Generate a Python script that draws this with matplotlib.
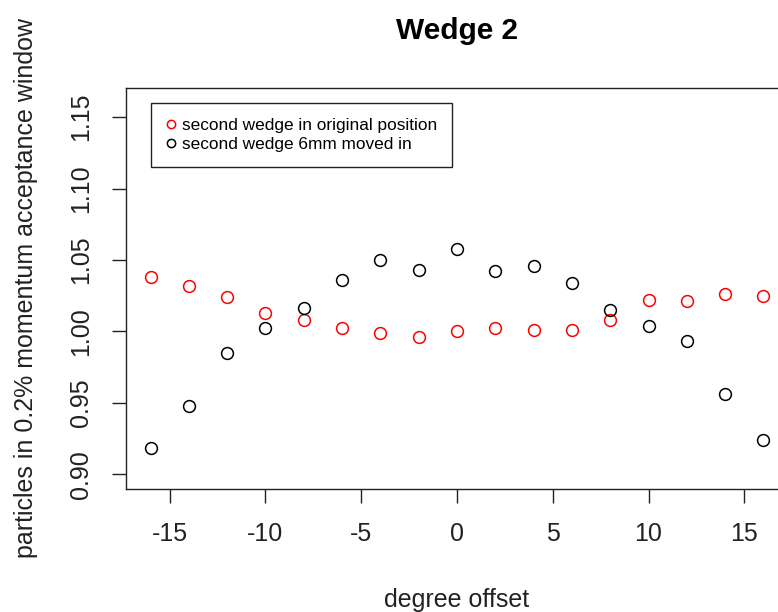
import numpy as np
import matplotlib as mpl
mpl.use('Agg')
import matplotlib.pyplot as plt

plt.rcParams['font.family'] = ['Liberation Sans', 'DejaVu Sans']

offset = [-16, -14, -12, -10, -8, -6, -4, -2, 0, 2, 4, 6, 8, 10, 12, 14, 16]
original = [1.038, 1.032, 1.024, 1.013, 1.008, 1.002, 0.999, 0.996, 1.000,
            1.002, 1.001, 1.001, 1.008, 1.022, 1.021, 1.026, 1.025]
moved_in = [0.918, 0.948, 0.985, 1.002, 1.016, 1.036, 1.050, 1.043, 1.058,
            1.042, 1.046, 1.034, 1.015, 1.004, 0.993, 0.956, 0.924]
xticks = [-15, -10, -5, 0, 5, 10, 15]
yticks = [0.90, 0.95, 1.00, 1.05, 1.10, 1.15]

fig = plt.figure(figsize=(7.78, 6.12), dpi=100)
# plot box runs past the right edge, as in the original
ax = fig.add_axes([126/778, 123/612, (788-126)/778, (489-88)/612])

ax.plot(offset, original, ls='none', marker='o', ms=8.5, mfc='none', mec='red', mew=1.1,
        label='second wedge in original position')
ax.plot(offset, moved_in, ls='none', marker='o', ms=8.5, mfc='none', mec='black', mew=1.1,
        label='second wedge 6mm moved in')

ax.set_xlim(-17.28, 17.28)
ax.set_ylim(0.8896, 1.1704)
ax.set_xticks(xticks)
ax.set_xticklabels(['-15', '-10', '-5', '0', '5', '10', '15'])
ax.set_yticks(yticks)
ax.set_yticklabels(['%.2f' % v for v in yticks], rotation=90, va='center')
ax.tick_params(length=10, width=1, labelsize=18, colors='#222222', labelcolor='#222222')
ax.tick_params(axis='x', pad=14)
ax.tick_params(axis='y', pad=14)
for s in ax.spines.values():
    s.set_linewidth(1)
    s.set_color('#222222')

ax.set_title('Wedge 2', fontsize=21.5, fontweight='bold', pad=35)
ax.set_xlabel('degree offset', fontsize=18, labelpad=30, color='#222222')
ax.set_ylabel('particles in 0.2% momentum acceptance window', fontsize=18, labelpad=22,
              color='#222222')

leg = ax.legend(loc='upper left', bbox_to_anchor=(25/662, 1 - 15/401), borderaxespad=0,
                fontsize=12.4, fancybox=False, edgecolor='#222222', framealpha=1,
                handletextpad=0.35, borderpad=0.85, labelspacing=0.25, handlelength=0.6,
                markerscale=0.7)
leg.get_frame().set_linewidth(1)

plt.savefig('out.png', dpi=100)
